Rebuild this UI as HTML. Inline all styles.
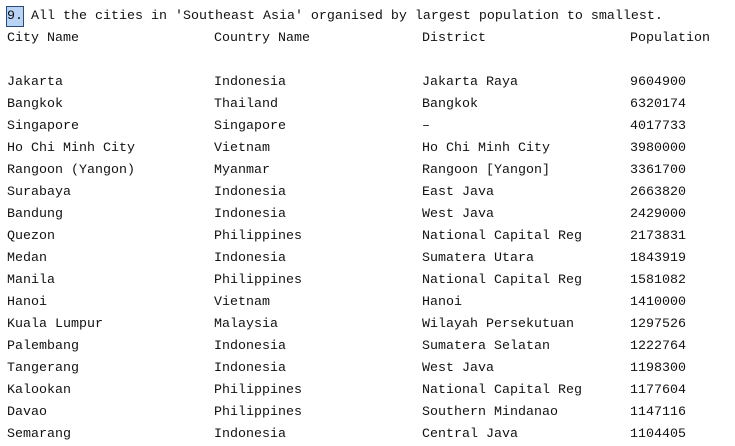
<!DOCTYPE html>
<html><head><meta charset="utf-8"><style>
html,body{margin:0;padding:0;background:#fff;width:735px;height:442px;overflow:hidden}
.t{position:absolute;left:7px;top:6px;font-family:"Liberation Mono",monospace;font-size:13.33px;line-height:22px;color:#111}
.row{height:22px;position:relative}
.row span{position:absolute;top:0;white-space:pre}
.c1{left:0}.c2{left:207px}.c3{left:415px}.c4{left:623px}
.hl{background:#b9d3f5;outline:1px solid #2a4a7a;padding:2px 0;}
</style></head><body>
<div class="t"><div class="row"><span class="c1"><span class="hl" style="position:static">9.</span> All the cities in 'Southeast Asia' organised by largest population to smallest.</span></div><div class="row"><span class="c1">City Name</span><span class="c2">Country Name</span><span class="c3">District</span><span class="c4">Population</span></div><div class="row"></div><div id="rows"></div></div>
<script>
const cities=["Jakarta","Bangkok","Singapore","Ho Chi Minh City","Rangoon (Yangon)","Surabaya","Bandung","Quezon","Medan","Manila","Hanoi","Kuala Lumpur","Palembang","Tangerang","Kalookan","Davao","Semarang"];
const countries=["Indonesia","Thailand","Singapore","Vietnam","Myanmar","Indonesia","Indonesia","Philippines","Indonesia","Philippines","Vietnam","Malaysia","Indonesia","Indonesia","Philippines","Philippines","Indonesia"];
const districts=["Jakarta Raya","Bangkok","–","Ho Chi Minh City","Rangoon [Yangon]","East Java","West Java","National Capital Reg","Sumatera Utara","National Capital Reg","Hanoi","Wilayah Persekutuan","Sumatera Selatan","West Java","National Capital Reg","Southern Mindanao","Central Java"];
const populations=[9604900,6320174,4017733,3980000,3361700,2663820,2429000,2173831,1843919,1581082,1410000,1297526,1222764,1198300,1177604,1147116,1104405];
const host=document.getElementById('rows');
cities.forEach((c,i)=>{
  const r=document.createElement('div');r.className='row';
  
  
  [[c,'c1'],[countries[i],'c2'],[districts[i],'c3'],[String(populations[i]),'c4']].forEach(([v,k])=>{
    const s=document.createElement('span');s.className=k;s.textContent=v;r.appendChild(s);
  });
  host.appendChild(r);
});
</script>
</body></html>
